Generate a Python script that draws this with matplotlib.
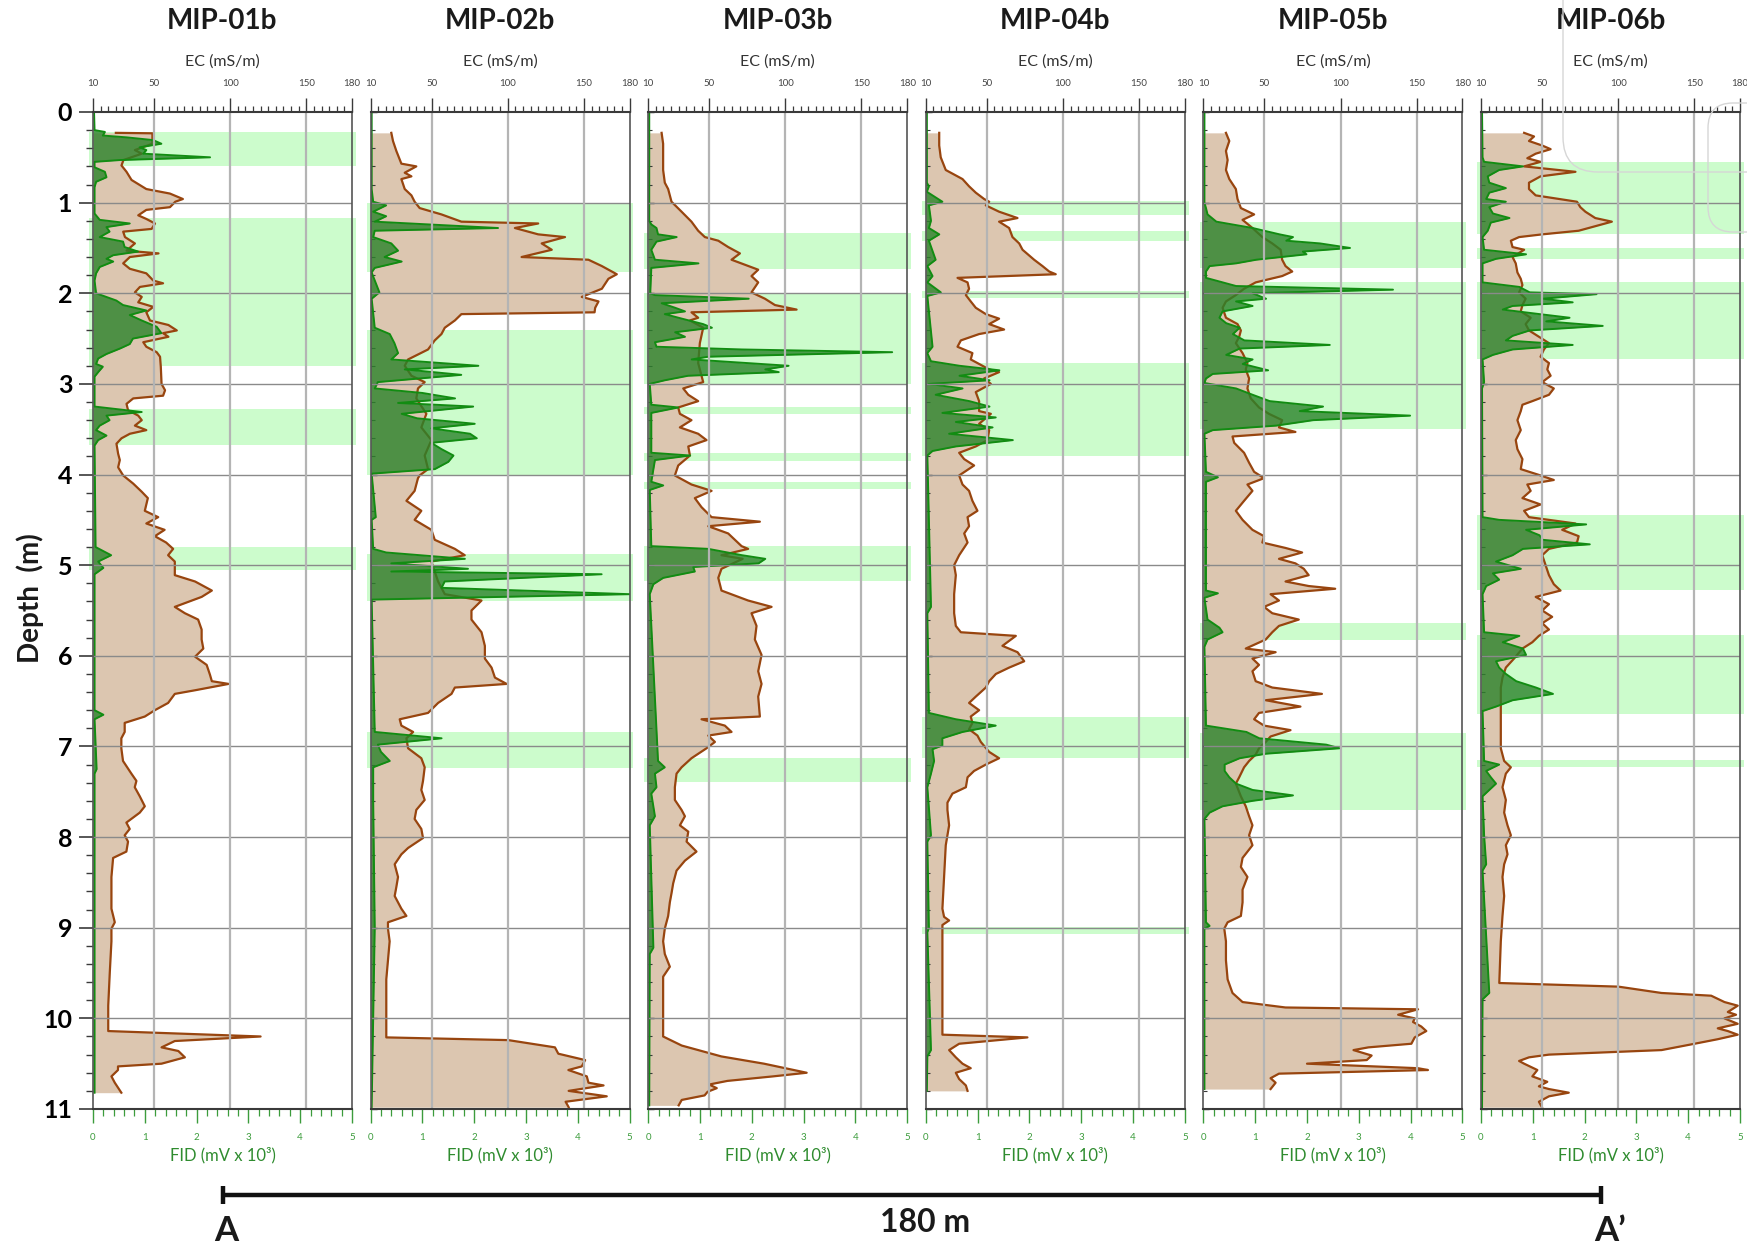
import matplotlib

matplotlib.use("Agg")

import matplotlib.pyplot as plt
import numpy as np
from matplotlib.patches import FancyBboxPatch
from matplotlib.ticker import FixedLocator, MultipleLocator

plt.rcParams["font.family"] = ["Lato", "DejaVu Sans"]

WELL_NAMES = ["MIP-01b", "MIP-02b", "MIP-03b", "MIP-04b", "MIP-05b", "MIP-06b"]
EC_TICKS = [10, 50, 100, 150, 180]
EC_GRID = [50, 100, 150]
FID_TICKS = [0, 1, 2, 3, 4, 5]
DEPTH_TICKS = list(range(12))
SCALE_LABEL = "180 m"
SECTION_ENDS = ["A", "A\u2019"]

# (depth m, EC mS/m)
mip01_ec = [
    (0.23, 25), (0.235, 49), (0.35, 49), (0.42, 37.5), (0.46, 42), (0.53, 30), (0.59, 28.7),
    (0.66, 32), (0.75, 35.3), (0.85, 45), (0.9, 60.5), (0.96, 69), (0.99, 64), (1.05, 60.5),
    (1.08, 45), (1.14, 39.7), (1.18, 45), (1.23, 50.7), (1.29, 48.5), (1.32, 29.8), (1.38, 31),
    (1.45, 37.5), (1.53, 32), (1.56, 53), (1.6, 34.2), (1.67, 29.8), (1.73, 34.2), (1.78, 45),
    (1.86, 49.6), (1.89, 56), (1.93, 40.8), (1.99, 37.5), (2.04, 42), (2.1, 39.7), (2.15, 49.6),
    (2.21, 45), (2.3, 47.4), (2.35, 59.5), (2.41, 65), (2.44, 56), (2.48, 59.5), (2.54, 43),
    (2.59, 45), (2.65, 51.8), (2.7, 54), (2.81, 54.5), (3.0, 55), (3.07, 57.3), (3.13, 56),
    (3.16, 36.4), (3.22, 32), (3.29, 33), (3.35, 39.7), (3.4, 42), (3.46, 37.5), (3.51, 45),
    (3.55, 34.2), (3.6, 28.7), (3.66, 25.4), (3.77, 26.5), (3.84, 27.6), (3.92, 26.5),
    (4.01, 29.8), (4.1, 36.4), (4.19, 42), (4.26, 46), (4.4, 44), (4.47, 52.8), (4.54, 45),
    (4.61, 57), (4.68, 50.6), (4.75, 58), (4.82, 62.6), (4.89, 59.3), (4.96, 63.7),
    (5.11, 63.7), (5.18, 77), (5.28, 88), (5.35, 81.3), (5.46, 63.7), (5.53, 70.3),
    (5.6, 79), (5.71, 81.3), (5.82, 81.3), (5.92, 82.4), (6.01, 77), (6.1, 84.6), (6.21, 86.8),
    (6.28, 88), (6.31, 99), (6.38, 77), (6.42, 63.7), (6.52, 59.3), (6.6, 50.6), (6.67, 44),
    (6.74, 30.8), (6.84, 30.8), (6.91, 28.6), (7.02, 28.6), (7.16, 29.7), (7.3, 35.2),
    (7.38, 38.5), (7.45, 37.4), (7.55, 40.7), (7.66, 44), (7.73, 40.7), (7.84, 31.9),
    (7.91, 34.1), (7.98, 30.8), (8.05, 33), (8.16, 31.9), (8.23, 23.2), (8.44, 22.1),
    (8.79, 22.1), (8.94, 24.3), (9.01, 22.1), (9.15, 22.1), (9.5, 21), (9.86, 20), (10.14, 20),
    (10.2, 120), (10.25, 63.7), (10.32, 55), (10.36, 66), (10.43, 70.3), (10.5, 55),
    (10.53, 26.4), (10.57, 26.4), (10.64, 22.1), (10.71, 24.3), (10.82, 28.6),
]
# (depth m, FID mV x 10^3)
mip01_fid = [
    (0.0, 0.02), (0.2, 0.03), (0.22, 0.23), (0.26, 0.19), (0.28, 0.65), (0.31, 1.16),
    (0.35, 1.32), (0.39, 0.9), (0.42, 1.03), (0.46, 0.97), (0.5, 2.26), (0.53, 0.52),
    (0.55, 0.03), (0.61, 0.03), (0.66, 0.23), (0.72, 0.26), (0.77, 0.06), (0.83, 0.03),
    (1.12, 0.03), (1.19, 0.13), (1.23, 0.71), (1.27, 0.26), (1.32, 0.32), (1.38, 0.13),
    (1.43, 0.58), (1.49, 0.61), (1.54, 0.87), (1.58, 0.39), (1.62, 0.26), (1.65, 0.39),
    (1.71, 0.13), (1.78, 0.06), (1.86, 0.03), (2.0, 0.06), (2.08, 0.45), (2.13, 0.58),
    (2.19, 1.03), (2.24, 0.71), (2.3, 0.94), (2.37, 1.23), (2.44, 1.32), (2.5, 0.77),
    (2.56, 0.71), (2.61, 0.52), (2.67, 0.26), (2.72, 0.1), (2.78, 0.06), (2.81, 0.19),
    (2.87, 0.1), (2.92, 0.03), (3.25, 0.03), (3.31, 0.94), (3.35, 0.26), (3.4, 0.32),
    (3.46, 0.13), (3.51, 0.06), (3.57, 0.26), (3.62, 0.1), (3.68, 0.03), (4.8, 0.05),
    (4.89, 0.35), (4.96, 0.1), (5.03, 0.2), (5.1, 0.03), (6.6, 0.03), (6.65, 0.2),
    (6.7, 0.03), (7.25, 0.07), (7.3, 0.03), (10.82, 0.03),
]
mip01_bands = [(0.22, 0.6), (1.17, 2.8), (3.28, 3.67), (4.8, 5.05)]

mip02_ec = [
    (0.23, 23.6), (0.32, 24.7), (0.43, 26.9), (0.57, 30.2), (0.6, 40), (0.67, 32.4),
    (0.71, 36.8), (0.74, 30.2), (0.85, 32.4), (0.92, 36.8), (0.99, 38.9), (1.06, 42.2),
    (1.13, 56.5), (1.21, 69.6), (1.23, 120), (1.28, 104.7), (1.35, 120), (1.38, 137.6),
    (1.45, 122.3), (1.52, 128.9), (1.6, 109.1), (1.63, 153), (1.7, 161.8), (1.79, 171.6),
    (1.84, 166.1), (1.95, 161.8), (2.04, 148.6), (2.09, 159.6), (2.16, 157.4), (2.21, 157),
    (2.23, 69.6), (2.3, 65.3), (2.38, 58.7), (2.45, 56.5), (2.52, 52.1), (2.62, 47.7),
    (2.73, 34.6), (2.8, 32.4), (2.91, 36.8), (2.98, 45.5), (3.05, 41.1), (3.16, 40),
    (3.33, 46.6), (3.48, 43.3), (3.62, 49.9), (3.79, 45.5), (3.94, 47.7), (4.01, 42.2),
    (4.04, 41.1), (4.18, 38.9), (4.29, 33.5), (4.4, 43.3), (4.5, 38.9), (4.61, 49.9),
    (4.72, 52.1), (4.82, 65.3), (4.89, 71.8), (4.96, 49.9), (5.18, 54.3), (5.32, 58.7),
    (5.39, 82.8), (5.5, 76.2), (5.6, 76.2), (5.74, 82.8), (5.89, 85), (6.03, 85), (6.13, 89.4),
    (6.24, 91.6), (6.31, 99.3), (6.35, 65.3), (6.42, 63.1), (6.52, 54.3), (6.63, 47.7),
    (6.7, 29.1), (6.77, 30.2), (6.84, 37.9), (6.91, 33.5), (7.02, 34.6), (7.13, 43.3),
    (7.23, 45.5), (7.38, 44.4), (7.48, 43.3), (7.59, 45.5), (7.7, 40), (7.8, 38.9),
    (7.91, 43.3), (8.01, 44.4), (8.12, 34.6), (8.19, 30.2), (8.3, 25.8), (8.44, 28),
    (8.55, 26.9), (8.65, 25.8), (8.79, 30.2), (8.87, 33.5), (8.94, 21.4), (9.01, 21.4),
    (9.15, 22.5), (9.36, 21.4), (9.57, 20.3), (10.21, 20.3), (10.24, 100.4), (10.32, 131),
    (10.39, 133.2), (10.46, 150.8), (10.53, 148.6), (10.57, 139.8), (10.64, 151.9),
    (10.71, 153), (10.74, 162.9), (10.8, 140), (10.86, 165), (10.92, 138), (10.98, 140),
]
mip02_fid = [
    (0.0, 0.02), (0.85, 0.02), (0.99, 0.05), (1.03, 0.3), (1.1, 0.05), (1.15, 0.3),
    (1.21, 0.08), (1.28, 2.46), (1.31, 0.08), (1.38, 0.05), (1.45, 0.4), (1.53, 0.53),
    (1.6, 0.27), (1.65, 0.6), (1.72, 0.08), (1.77, 0.02), (1.99, 0.17), (2.06, 0.02),
    (2.38, 0.08), (2.45, 0.37), (2.55, 0.46), (2.66, 0.53), (2.73, 0.4), (2.8, 2.08),
    (2.84, 0.66), (2.9, 1.75), (2.98, 0.14), (3.05, 0.08), (3.1, 1.0), (3.16, 1.63),
    (3.21, 0.53), (3.25, 1.98), (3.33, 0.6), (3.38, 0.9), (3.44, 2.01), (3.49, 1.17),
    (3.55, 1.92), (3.6, 2.05), (3.65, 1.17), (3.72, 1.37), (3.79, 1.6), (3.86, 1.5),
    (3.94, 1.24), (3.99, 0.02), (4.47, 0.1), (4.5, 0.02), (4.82, 0.05), (4.86, 0.3),
    (4.93, 1.82), (4.98, 0.4), (5.04, 1.88), (5.07, 0.4), (5.1, 4.46), (5.18, 1.43),
    (5.25, 1.37), (5.32, 5.0), (5.38, 0.02), (6.84, 0.08), (6.91, 1.37), (6.98, 0.14),
    (7.06, 0.2), (7.16, 0.37), (7.23, 0.05), (7.6, 0.05), (9.0, 0.08), (10.98, 0.02),
]
mip02_bands = [(1.0, 1.76), (2.41, 4.0), (4.88, 5.4), (6.84, 7.24)]

mip03_ec = [
    (0.23, 18.8), (0.35, 19.8), (0.64, 19.8), (0.78, 20.9), (0.85, 23.1), (0.99, 25.3),
    (1.1, 31.9), (1.21, 38.4), (1.31, 42.8), (1.38, 47.2), (1.42, 56), (1.49, 62.5),
    (1.56, 70.2), (1.63, 64.7), (1.74, 82.2), (1.81, 77.8), (1.88, 82.2), (1.99, 77.8),
    (2.06, 86.6), (2.13, 93.2), (2.18, 107.4), (2.21, 38.4), (2.27, 42.8), (2.3, 37.4),
    (2.38, 46.1), (2.55, 43.9), (2.77, 42.8), (2.98, 46.1), (3.05, 33), (3.12, 36.3),
    (3.19, 42.8), (3.26, 29.7), (3.33, 30.8), (3.4, 38.4), (3.48, 30.8), (3.55, 42.8),
    (3.62, 48.3), (3.69, 36.3), (3.79, 37.4), (3.9, 29.7), (4.01, 27.5), (4.11, 38.4),
    (4.18, 51.6), (4.26, 40.6), (4.36, 45), (4.47, 51.6), (4.52, 83.3), (4.57, 49.4),
    (4.65, 62.5), (4.72, 66.9), (4.79, 71.3), (4.82, 75.6), (4.89, 58.1), (4.93, 72),
    (5.04, 58.1), (5.14, 56), (5.28, 58.1), (5.39, 75.6), (5.46, 91), (5.53, 77.8),
    (5.67, 81.1), (5.82, 80), (5.99, 84.4), (6.17, 82.2), (6.31, 84.4), (6.45, 82.2),
    (6.67, 83.3), (6.7, 45), (6.77, 60.3), (6.84, 64.7), (6.88, 49.4), (6.95, 53.8),
    (7.02, 48.3), (7.13, 38.4), (7.23, 31.9), (7.3, 28.6), (7.45, 27.5), (7.59, 27.5),
    (7.7, 31.9), (7.77, 34.1), (7.87, 30.8), (7.94, 36.3), (8.05, 35.2), (8.16, 41.7),
    (8.26, 34.1), (8.37, 28.6), (8.51, 26.4), (8.62, 25.3), (8.72, 24.2), (8.87, 23.1),
    (9.01, 20.9), (9.15, 19.8), (9.29, 20.9), (9.43, 24.2), (9.54, 19.8), (10.2, 19.8),
    (10.3, 32), (10.42, 58), (10.5, 86), (10.55, 100), (10.6, 114), (10.64, 92),
    (10.69, 62), (10.73, 50), (10.77, 55), (10.81, 49), (10.85, 47), (10.9, 32), (10.96, 30),
]
mip03_fid = [
    (0.0, 0.02), (1.2, 0.02), (1.24, 0.06), (1.28, 0.16), (1.35, 0.19), (1.38, 0.55),
    (1.43, 0.16), (1.52, 0.06), (1.63, 0.13), (1.67, 0.97), (1.72, 0.06), (2.0, 0.04),
    (2.02, 0.13), (2.06, 1.94), (2.11, 0.26), (2.16, 0.52), (2.2, 0.71), (2.23, 0.32),
    (2.28, 0.65), (2.34, 1.06), (2.38, 1.23), (2.43, 0.52), (2.48, 0.71), (2.54, 0.13),
    (2.59, 0.16), (2.62, 1.81), (2.65, 4.71), (2.7, 1.16), (2.73, 0.84), (2.8, 2.71),
    (2.84, 2.26), (2.87, 2.52), (2.91, 0.77), (2.96, 0.32), (3.0, 0.03), (3.23, 0.06),
    (3.26, 0.58), (3.32, 0.06), (3.76, 0.06), (3.79, 0.81), (3.84, 0.13), (4.08, 0.06),
    (4.12, 0.29), (4.17, 0.03), (4.79, 0.06), (4.82, 1.16), (4.89, 1.81), (4.93, 2.26),
    (4.98, 2.13), (5.02, 0.87), (5.07, 0.9), (5.14, 0.29), (5.21, 0.1), (5.32, 0.03),
    (7.16, 0.19), (7.23, 0.32), (7.3, 0.13), (7.45, 0.16), (7.52, 0.06), (7.77, 0.13),
    (7.87, 0.03), (9.22, 0.1), (9.29, 0.03), (10.96, 0.02),
]
mip03_bands = [(1.33, 1.73), (2.0, 3.0), (3.25, 3.33), (3.76, 3.85), (4.08, 4.16),
               (4.79, 5.18), (7.13, 7.39)]

mip04_ec = [
    (0.23, 18.8), (0.37, 18.8), (0.5, 19.8), (0.64, 23.1), (0.74, 34.1), (0.82, 38.4),
    (0.89, 42.8), (0.96, 48.3), (0.99, 51.6), (1.03, 49.4), (1.1, 58.1), (1.17, 70.2),
    (1.21, 58.1), (1.28, 64.7), (1.38, 66.9), (1.45, 71.3), (1.52, 73.5), (1.63, 81.1),
    (1.7, 86.6), (1.76, 91), (1.79, 95.3), (1.83, 30.8), (1.88, 37.4), (1.95, 38.4),
    (2.02, 36.3), (2.09, 39.5), (2.16, 42.8), (2.23, 49.4), (2.28, 58.1), (2.34, 51.6),
    (2.4, 61.4), (2.45, 45), (2.52, 33), (2.59, 30.8), (2.66, 40.6), (2.73, 39.5),
    (2.84, 51.6), (2.87, 58.1), (2.94, 48.3), (3.0, 52.7), (3.09, 42.8), (3.19, 45),
    (3.3, 45), (3.33, 52.7), (3.44, 45), (3.51, 51.6), (3.62, 50.5), (3.69, 42.8),
    (3.76, 31.9), (3.83, 35.2), (3.9, 41.7), (4.01, 31.9), (4.11, 34.1), (4.18, 38.4),
    (4.29, 40.6), (4.4, 43.9), (4.47, 37.4), (4.57, 38.4), (4.65, 35.2), (4.75, 37.4),
    (4.89, 31.9), (5.0, 28.6), (5.11, 29.7), (5.32, 28.6), (5.53, 28.6), (5.67, 29.7),
    (5.74, 33), (5.78, 69.1), (5.89, 60.3), (5.96, 70.2), (6.06, 74.6), (6.13, 64.7),
    (6.2, 56), (6.28, 51.6), (6.35, 49.4), (6.45, 42.8), (6.52, 38.4), (6.6, 45),
    (6.67, 39.5), (6.74, 40.6), (6.81, 38.4), (6.88, 43.9), (6.95, 46.1), (7.06, 51.6),
    (7.13, 58.1), (7.2, 49.4), (7.27, 41.7), (7.34, 37.4), (7.45, 36.3), (7.52, 27.5),
    (7.62, 24.2), (7.7, 24.2), (7.87, 25.3), (8.09, 23.1), (8.44, 22), (8.79, 20.9),
    (8.88, 22), (8.92, 25.3), (8.97, 20.9), (9.29, 20.9), (9.86, 20.9), (10.18, 20.9),
    (10.21, 76.7), (10.28, 31.9), (10.35, 25.3), (10.43, 29.7), (10.5, 34.1), (10.55, 39.5),
    (10.6, 29.7), (10.67, 31.9), (10.74, 36.3), (10.8, 37.4),
]
mip04_fid = [
    (0.0, 0.02), (0.78, 0.02), (0.82, 0.06), (0.88, 0.02), (0.99, 0.32), (1.03, 0.06),
    (1.2, 0.1), (1.28, 0.06), (1.35, 0.26), (1.42, 0.06), (1.63, 0.19), (1.7, 0.03),
    (1.81, 0.13), (1.88, 0.03), (1.99, 0.29), (2.03, 0.03), (2.59, 0.13), (2.66, 0.03),
    (2.75, 0.1), (2.8, 0.65), (2.85, 1.42), (2.91, 0.65), (2.96, 1.23), (3.0, 0.06),
    (3.05, 0.71), (3.12, 0.19), (3.19, 0.84), (3.25, 1.23), (3.32, 0.32), (3.37, 1.35),
    (3.42, 0.58), (3.48, 1.29), (3.55, 0.45), (3.62, 1.68), (3.69, 0.58), (3.74, 0.13),
    (3.79, 0.03), (5.46, 0.1), (5.53, 0.03), (6.63, 0.06), (6.7, 0.58), (6.77, 1.35),
    (6.84, 0.71), (6.91, 0.32), (6.99, 0.32), (7.03, 0.13), (7.16, 0.16), (7.3, 0.1),
    (7.45, 0.03), (7.98, 0.1), (8.05, 0.03), (9.0, 0.06), (9.05, 0.03), (10.35, 0.1),
    (10.42, 0.03), (10.8, 0.02),
]
mip04_bands = [(0.98, 1.14), (1.31, 1.42), (1.97, 2.05), (2.77, 3.8), (6.67, 7.13),
               (8.99, 9.07)]

mip05_ec = [
    (0.23, 24.8), (0.32, 27), (0.43, 24.8), (0.53, 25.9), (0.64, 24.8), (0.74, 27),
    (0.85, 31.3), (0.96, 32.4), (1.06, 34.6), (1.13, 43.3), (1.19, 35.7), (1.28, 42.2),
    (1.38, 48.7), (1.45, 55.2), (1.52, 60.7), (1.63, 61.7), (1.7, 63.9), (1.76, 68.3),
    (1.81, 61.7), (1.88, 44.3), (1.95, 36.7), (2.02, 31.3), (2.09, 24.8), (2.16, 22.6),
    (2.27, 24.8), (2.34, 32.4), (2.41, 34.6), (2.48, 33.5), (2.55, 31.3), (2.66, 35.7),
    (2.77, 38.9), (2.84, 37.8), (2.94, 40), (3.05, 38.9), (3.16, 41.1), (3.26, 46.5),
    (3.33, 53), (3.4, 61.7), (3.48, 59.6), (3.53, 70.4), (3.58, 29.1), (3.65, 30.2),
    (3.76, 36.7), (3.87, 40), (3.97, 43.3), (4.04, 49.8), (4.11, 38.9), (4.18, 42.2),
    (4.29, 36.7), (4.4, 31.3), (4.5, 35.7), (4.61, 42.2), (4.68, 49.8), (4.75, 48.7),
    (4.81, 63.9), (4.86, 74.8), (4.93, 59.6), (4.98, 70.4), (5.04, 75.9), (5.11, 79.1),
    (5.18, 63.9), (5.23, 79.1), (5.26, 96.5), (5.32, 54.1), (5.39, 59.6), (5.46, 49.8),
    (5.53, 55.2), (5.6, 72.6), (5.67, 59.6), (5.74, 55.2), (5.82, 50.9), (5.92, 37.8),
    (5.96, 57.4), (6.03, 42.2), (6.1, 46.5), (6.17, 42.2), (6.28, 44.3), (6.35, 55.2),
    (6.42, 87.8), (6.49, 50.9), (6.56, 73.7), (6.63, 46.5), (6.7, 43.3), (6.77, 49.8),
    (6.82, 67.2), (6.89, 54.1), (6.95, 50.9), (7.02, 46.5), (7.09, 44.3), (7.16, 40),
    (7.23, 36.7), (7.34, 33.5), (7.41, 31.3), (7.55, 34.6), (7.66, 37.8), (7.77, 40),
    (7.87, 42.2), (7.98, 40), (8.09, 42.2), (8.23, 35.7), (8.33, 34.6), (8.44, 38.9),
    (8.58, 35.7), (8.72, 35.7), (8.87, 34.6), (8.94, 25.9), (9.01, 23.7), (9.15, 24.8),
    (9.36, 24.8), (9.57, 25.9), (9.72, 29.1), (9.82, 35.7), (9.88, 63.9), (9.9, 150.9),
    (9.96, 137.8), (10.0, 148.7), (10.04, 147.6), (10.09, 153), (10.14, 156.3),
    (10.21, 148.7), (10.28, 146.5), (10.32, 118.3), (10.35, 108.5), (10.41, 120.4),
    (10.46, 117.2), (10.5, 78), (10.55, 150.9), (10.57, 157.4), (10.61, 59.6), (10.66, 54.1),
    (10.71, 57.4), (10.78, 54.1),
]
mip05_fid = [
    (0.0, 0.02), (1.0, 0.02), (1.06, 0.05), (1.13, 0.08), (1.21, 0.25), (1.28, 0.95),
    (1.35, 1.47), (1.38, 1.73), (1.42, 1.6), (1.45, 2.25), (1.5, 2.83), (1.54, 1.92),
    (1.57, 1.99), (1.63, 1.02), (1.67, 0.63), (1.7, 0.12), (1.76, 0.05), (1.83, 0.05),
    (1.92, 0.63), (1.96, 3.66), (2.0, 0.95), (2.06, 1.21), (2.09, 0.63), (2.14, 0.95),
    (2.2, 0.37), (2.27, 0.31), (2.33, 0.44), (2.38, 0.7), (2.45, 0.57), (2.52, 0.79),
    (2.57, 2.44), (2.61, 0.7), (2.68, 0.44), (2.73, 0.95), (2.78, 0.76), (2.85, 1.25),
    (2.89, 0.18), (2.94, 0.05), (2.99, 0.02), (3.05, 0.63), (3.12, 0.95), (3.19, 1.28),
    (3.25, 2.31), (3.3, 1.86), (3.35, 3.99), (3.4, 2.12), (3.46, 1.41), (3.51, 0.18),
    (3.55, 0.02), (3.97, 0.05), (4.03, 0.28), (4.08, 0.05), (5.28, 0.05), (5.31, 0.28),
    (5.36, 0.02), (5.6, 0.08), (5.69, 0.31), (5.74, 0.37), (5.82, 0.08), (5.9, 0.02),
    (6.77, 0.05), (6.84, 0.83), (6.91, 1.08), (6.98, 2.37), (7.02, 2.63), (7.08, 1.21),
    (7.13, 0.7), (7.2, 0.41), (7.27, 0.41), (7.34, 0.5), (7.41, 0.63), (7.48, 0.95),
    (7.54, 1.73), (7.6, 0.95), (7.66, 0.37), (7.73, 0.12), (7.8, 0.02), (8.94, 0.05),
    (8.98, 0.12), (9.01, 0.02), (10.78, 0.02),
]
mip05_bands = [(1.21, 1.72), (1.88, 3.5), (5.64, 5.83), (6.85, 7.7)]

mip06_ec = [
    (0.23, 38.3), (0.27, 44.8), (0.32, 41.5), (0.37, 50.2), (0.41, 55.7), (0.46, 45.9),
    (0.51, 40.4), (0.55, 49.1), (0.6, 38.3), (0.66, 72), (0.71, 49.1), (0.78, 41.5),
    (0.85, 41.5), (0.92, 45.9), (0.99, 73), (1.05, 75.2), (1.1, 78.5), (1.17, 85),
    (1.21, 95.9), (1.26, 85), (1.31, 74.1), (1.35, 50.2), (1.38, 35), (1.42, 29.6),
    (1.49, 30.7), (1.52, 38.3), (1.6, 30.7), (1.67, 32.8), (1.77, 33.9), (1.84, 36.1),
    (1.91, 37.2), (1.99, 35), (2.06, 39.3), (2.13, 37.2), (2.2, 36.1), (2.27, 42.6),
    (2.34, 39.3), (2.41, 41.5), (2.48, 48), (2.55, 54.6), (2.62, 51.3), (2.7, 49.1),
    (2.77, 54.6), (2.84, 53.5), (2.91, 55.7), (2.98, 50.2), (3.05, 57.8), (3.12, 54.6),
    (3.19, 43.7), (3.23, 37.2), (3.3, 36.1), (3.4, 33.9), (3.51, 36.1), (3.62, 32.8),
    (3.72, 33.9), (3.83, 37.2), (3.94, 36.1), (4.01, 49.1), (4.06, 57.8), (4.11, 40.4),
    (4.18, 42.6), (4.26, 37.2), (4.33, 49.1), (4.4, 38.3), (4.47, 41.5), (4.54, 72),
    (4.61, 63.3), (4.68, 74.1), (4.75, 73), (4.82, 54.6), (4.89, 50.2), (5.0, 52.4),
    (5.11, 54.6), (5.21, 57.8), (5.28, 62.2), (5.35, 45.9), (5.43, 54.6), (5.5, 50.2),
    (5.57, 56.7), (5.64, 50.2), (5.71, 54.6), (5.78, 48), (5.85, 43.7), (5.92, 37.2),
    (6.03, 31.7), (6.13, 26.3), (6.24, 24.1), (6.35, 23), (6.6, 23), (7.02, 23),
    (7.16, 25.2), (7.23, 29.6), (7.3, 26.3), (7.45, 24.1), (7.59, 26.3), (7.73, 25.2),
    (7.87, 27.4), (7.98, 29.6), (8.09, 26.3), (8.19, 27.4), (8.3, 25.2), (8.44, 24.1),
    (8.65, 25.2), (8.87, 24.1), (9.15, 23), (9.61, 22), (9.65, 100.2), (9.72, 128.5),
    (9.75, 161.1), (9.82, 169.8), (9.86, 178.5), (9.93, 172), (9.96, 177.4), (10.0, 169.8),
    (10.06, 178.5), (10.11, 165.4), (10.14, 172), (10.18, 178.5), (10.23, 165.4),
    (10.28, 150.2), (10.35, 128.5), (10.4, 54.6), (10.43, 41.5), (10.47, 35), (10.5, 38.3),
    (10.57, 47), (10.64, 43.7), (10.7, 53.5), (10.75, 48), (10.78, 54.6), (10.82, 67.6),
    (10.86, 54.6), (10.92, 48), (10.98, 50),
]
mip06_fid = [
    (0.0, 0.02), (0.5, 0.03), (0.55, 0.06), (0.6, 0.81), (0.64, 0.35), (0.71, 0.13),
    (0.78, 0.16), (0.84, 0.48), (0.89, 0.16), (0.96, 0.1), (0.99, 0.48), (1.05, 0.16),
    (1.12, 0.23), (1.17, 0.55), (1.22, 0.19), (1.31, 0.13), (1.38, 0.03), (1.52, 0.06),
    (1.57, 0.87), (1.62, 0.29), (1.67, 0.03), (1.88, 0.03), (1.93, 0.74), (1.99, 0.94),
    (2.01, 2.23), (2.06, 1.19), (2.1, 1.77), (2.14, 0.61), (2.18, 0.42), (2.23, 1.13),
    (2.27, 1.71), (2.31, 1.26), (2.36, 2.35), (2.41, 0.94), (2.47, 0.61), (2.52, 0.48),
    (2.57, 1.77), (2.62, 0.61), (2.68, 0.23), (2.73, 0.03), (2.98, 0.06), (3.05, 0.02),
    (4.47, 0.03), (4.5, 0.35), (4.55, 2.03), (4.61, 0.87), (4.67, 1.13), (4.72, 1.19),
    (4.77, 2.1), (4.82, 0.81), (4.89, 0.61), (4.96, 0.29), (5.04, 0.77), (5.09, 0.23),
    (5.16, 0.35), (5.23, 0.1), (5.32, 0.03), (5.74, 0.06), (5.78, 0.74), (5.85, 0.42),
    (5.92, 0.81), (5.99, 0.87), (6.06, 0.29), (6.13, 0.35), (6.2, 0.48), (6.28, 0.68),
    (6.35, 1.06), (6.42, 1.39), (6.49, 0.61), (6.56, 0.29), (6.61, 0.03), (7.16, 0.06),
    (7.2, 0.35), (7.27, 0.1), (7.34, 0.19), (7.41, 0.29), (7.48, 0.16), (7.55, 0.03),
    (7.98, 0.06), (8.3, 0.1), (8.37, 0.03), (9.72, 0.16), (9.79, 0.03), (10.98, 0.02),
]
mip06_bands = [(0.55, 1.35), (1.5, 1.62), (1.88, 2.72), (4.45, 5.27), (5.77, 6.64),
               (7.15, 7.23)]

WELLS = [
    (mip01_ec, mip01_fid, mip01_bands),
    (mip02_ec, mip02_fid, mip02_bands),
    (mip03_ec, mip03_fid, mip03_bands),
    (mip04_ec, mip04_fid, mip04_bands),
    (mip05_ec, mip05_fid, mip05_bands),
    (mip06_ec, mip06_fid, mip06_bands),
]

# colours
BAND = "#ccfccc"
TAN = "#dcc6b0"
BROWN = "#98450f"
FID_FILL = "#2b832b"
FID_LINE = "#128c12"
FID_TEXT = "#3c9c3c"
FRAME = "#3a3a3a"
INK = "#1a1a1a"

W_PX, H_PX = 1747, 1248
PANEL_LEFT, PANEL_STEP, PANEL_W = 93, 277.6, 259
PANEL_TOP, PANEL_BOTTOM = 112, 1109


def draw_well(fig, idx, name, ec_pts, fid_pts, bands):
    left_px = PANEL_LEFT + PANEL_STEP * idx
    ax = fig.add_axes([left_px / W_PX, 1 - PANEL_BOTTOM / H_PX, PANEL_W / W_PX,
                       (PANEL_BOTTOM - PANEL_TOP) / H_PX])
    ax.set_xlim(EC_TICKS[0], EC_TICKS[-1])
    ax.set_ylim(11, 0)

    for top, base in bands:
        ax.axhspan(top, base, xmin=-0.015, xmax=1.015, color=BAND, lw=0, zorder=0, clip_on=False)

    depth, ec = np.array(ec_pts).T
    ax.fill_betweenx(depth, EC_TICKS[0], ec, color=TAN, lw=0, zorder=1)
    ax.plot(ec, depth, color=BROWN, lw=1.6, zorder=3, solid_joinstyle="round")

    axf = ax.twiny()
    axf.set_xlim(FID_TICKS[0], FID_TICKS[-1])
    fdepth, fid = np.array(fid_pts).T
    axf.fill_betweenx(fdepth, 0, fid, color=FID_FILL, alpha=0.8, lw=0, zorder=1)
    axf.plot(fid, fdepth, color=FID_LINE, lw=1.4, zorder=2, solid_joinstyle="round")

    # grid drawn on the top layer so it shows through the fills
    for d in DEPTH_TICKS[1:-1]:
        axf.axhline(d, color="#8a8a8a", lw=1.0, zorder=4)
    for g in EC_GRID:
        axf.plot([g, g], [0, 1], transform=ax.get_xaxis_transform(), color="#b4b4b4",
                 lw=1.6, zorder=4)

    for s in ax.spines.values():
        s.set_visible(False)
    for side, spine in axf.spines.items():
        spine.set_color(FRAME if side in ("top", "bottom") else "#555555")
        spine.set_linewidth(1.5 if side in ("top", "bottom") else 1.2)
        spine.set_zorder(5)

    # EC scale on top
    ax.xaxis.tick_top()
    ax.xaxis.set_label_position("top")
    ax.set_xticks(EC_TICKS)
    ax.xaxis.set_minor_locator(FixedLocator(np.arange(10, 181, 5)))
    ax.tick_params(axis="x", which="major", direction="out", length=10, width=1.0, color=FRAME,
                   labelsize=7, labelcolor="#444444", pad=7)
    ax.tick_params(axis="x", which="minor", direction="out", length=4, width=0.9, color=FRAME)
    ax.set_xlabel("EC (mS/m)", fontsize=11.5, color="#333333", labelpad=10)

    # FID scale at the bottom
    axf.xaxis.tick_bottom()
    axf.xaxis.set_label_position("bottom")
    axf.set_xticks(FID_TICKS)
    axf.xaxis.set_minor_locator(MultipleLocator(0.2))
    axf.tick_params(axis="x", which="major", direction="out", length=10, width=1.0,
                    color=FID_TEXT, labelsize=7, labelcolor=FID_TEXT, pad=7)
    axf.tick_params(axis="x", which="minor", direction="out", length=5, width=0.9, color=FID_TEXT)
    axf.set_xlabel("FID (mV x 10\u00b3)", fontsize=12, color="#2f8c2f", labelpad=4)

    # depth scale
    ax.set_yticks(DEPTH_TICKS)
    ax.yaxis.set_minor_locator(MultipleLocator(0.2))
    if idx == 0:
        ax.tick_params(axis="y", which="major", direction="out", length=10, width=1.2,
                       color=FRAME, labelsize=18, pad=5)
        ax.tick_params(axis="y", which="minor", direction="out", length=5, width=1.0, color=FRAME)
        for lab in ax.get_yticklabels():
            lab.set_fontweight("bold")
    else:
        ax.tick_params(axis="y", which="major", direction="in", length=4, width=1.0,
                       color=FRAME, labelleft=False)
        ax.tick_params(axis="y", which="minor", direction="in", length=3, width=0.8, color=FRAME)

    return left_px + PANEL_W / 2


fig = plt.figure(figsize=(W_PX / 100, H_PX / 100), dpi=100)

centers = [draw_well(fig, i, name, *well)
           for i, (name, well) in enumerate(zip(WELL_NAMES, WELLS))]

# page layer in pixel units (origin top-left) for titles and the section bar
page = fig.add_axes([0, 0, 1, 1], zorder=-1)
page.set_xlim(0, W_PX)
page.set_ylim(H_PX, 0)
page.axis("off")

for cx, name in zip(centers, WELL_NAMES):
    page.text(cx, 21, name, ha="center", va="center", fontsize=20, fontweight="bold", color=INK)

page.text(30, 598, "Depth  (m)", rotation=90, ha="center", va="center",
          fontsize=20, fontweight="bold", color=INK)

bar_y = 1195
bar_x = [223, 1601]
page.plot(bar_x, [bar_y, bar_y], color="#111111", lw=3.2, solid_capstyle="butt")
for xe in bar_x:
    page.plot([xe, xe], [bar_y - 9, bar_y + 9], color="#111111", lw=3.2, solid_capstyle="butt")
page.text(925, 1223, SCALE_LABEL, ha="center", va="center", fontsize=23,
          fontweight="bold", color=INK)
page.text(226, 1247, SECTION_ENDS[0], ha="center", va="bottom", fontsize=25,
          fontweight="bold", color=INK)
page.text(1610, 1247, SECTION_ENDS[1], ha="center", va="bottom", fontsize=25,
          fontweight="bold", color=INK)

# faint outlines in the upper right corner
fig.add_artist(FancyBboxPatch((15.63, 10.76), 3.0, 3.0, boxstyle="round,pad=0,rounding_size=0.35",
                              fill=False, ec="#d6d6d6", lw=1.0, transform=fig.dpi_scale_trans))
fig.add_artist(FancyBboxPatch((17.08, 10.16), 1.0, 1.29, boxstyle="round,pad=0,rounding_size=0.25",
                              fill=False, ec="#d6d6d6", lw=1.0, transform=fig.dpi_scale_trans))

fig.savefig("out.png", dpi=100, facecolor="white")
